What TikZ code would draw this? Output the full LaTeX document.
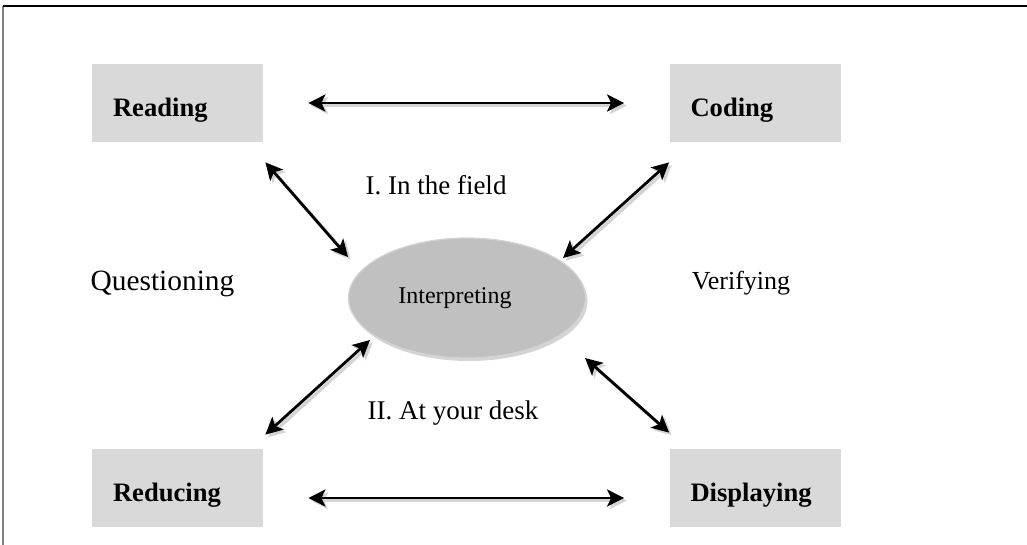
\documentclass[tikz,border=0pt]{standalone}
\usepackage{fontspec}
\setmainfont{Liberation Serif}
\usetikzlibrary{arrows.meta,calc,shapes.geometric,shadows}
\definecolor{boxgray}{HTML}{D9D9D9}
\definecolor{ellgray}{HTML}{C0C0C0}
\definecolor{shadegray}{HTML}{D4D4D4}
\tikzset{
  stagebox/.style={fill=boxgray, minimum width=85.5pt, minimum height=39pt,
    text width=64.5pt, inner xsep=10.5pt, inner ysep=0pt, align=left,
    text height=14pt, text depth=0.3pt, font=\fontsize{13.3}{15}\selectfont\bfseries},
  plainlabel/.style={font=\fontsize{13.5}{15}\selectfont, inner sep=0pt},
  link/.style={{Stealth[length=8.5pt,width=8.5pt,inset=2pt]}-{Stealth[length=8.5pt,width=8.5pt,inset=2pt]},
    line width=1.4pt,
    preaction={draw=shadegray, line width=1.7pt, transform canvas={shift={(1.3pt,-1.3pt)}}}}
}

\begin{document}
\begin{tikzpicture}[x=0.5pt,y=-0.5pt]
   \useasboundingbox (0,0) rectangle (1027,545);
   % frame
   \draw[gray, line width=0.7pt] (3,6) -- (3,545);
   \draw[line width=1pt] (3,6) -- (1027,6);

   \node[stagebox] (read) at (177.5,103) {Reading};
   \node[stagebox] (code) at (755,103) {Coding};
   \node[stagebox] (reduce) at (177.5,488) {Reducing};
   \node[stagebox] (display) at (755,488) {Displaying};

   \node[ellipse, fill=ellgray, draw=shadegray, line width=0.6pt,
         minimum width=118.5pt, minimum height=60pt, inner sep=0pt,
         drop shadow={shadow xshift=1pt, shadow yshift=-1.5pt, fill=shadegray, opacity=1},
         font=\fontsize{12}{14}\selectfont] (interp) at (467,298) {Interpreting\kern12pt};

   \node[plainlabel] (field) at (436,185) {I. In the field};
   \node[plainlabel] (desk) at (453,413) {II. At your desk};
   \node[plainlabel, font=\fontsize{14.7}{17}\selectfont] (quest) at (162.5,284) {Questioning};
   \node[plainlabel, font=\fontsize{13}{15}\selectfont] (verif) at (741,283) {Verifying};

   \draw[link] ($(read.east)+(45,0)$) -- ($(code.west)+(-45,0)$);
   \draw[link] ($(reduce.east)+(45,10)$) -- ($(display.west)+(-45,10)$);
   \draw[link] ($(read.south east)+(2,20)$) -- ($(interp.center)+(-119,-41)$);
   \draw[link] ($(code.south west)+(0,20)$) -- ($(interp.center)+(96,-40)$);
   \draw[link] ($(reduce.north east)+(2,-14)$) -- ($(interp.center)+(-97,42)$);
   \draw[link] ($(display.north west)+(0,-16)$) -- ($(interp.center)+(118,60)$);
\end{tikzpicture}
\end{document}
